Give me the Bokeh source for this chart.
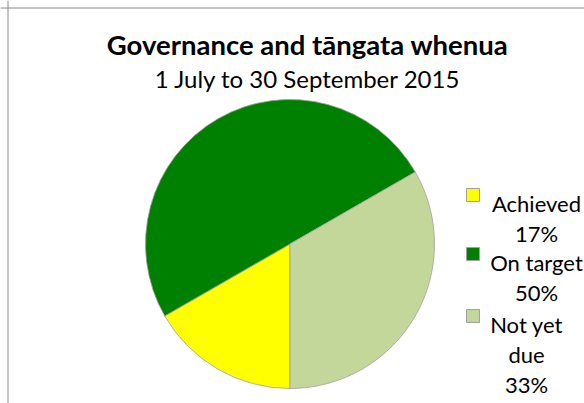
import math
import textwrap
from bokeh.plotting import figure
from bokeh.models import Range1d, Span
from bokeh.core.properties import value
from bokeh.embed import file_html
from bokeh.resources import INLINE

# ---- data ----
title = "Governance and tāngata whenua"
subtitle = "1 July to 30 September 2015"
categories = ["Achieved", "On target", "Not yet due"]
shares = [16.7, 50.0, 33.3]          # percent
colors = ["#FFFF00", "#008000", "#C4D79B"]

# ---- layout (page pixels) ----
W, H = 584, 403
FONT = "Lato"


def sy(y):
    """page pixel y -> data y"""
    return H - y


p = figure(width=W, height=H, x_range=Range1d(0, W), y_range=Range1d(0, H),
           output_backend="svg", toolbar_location=None, min_border=0,
           x_axis_location=None, y_axis_location=None)
p.grid.visible = False
p.outline_line_color = None
p.background_fill_color = "white"
p.border_fill_color = "white"

# chart-area border (left and top visible)
p.add_layout(Span(location=7.5, dimension="height", line_color="#8a8a8a", line_width=1))
p.add_layout(Span(location=sy(7.5), dimension="width", line_color="#8a8a8a", line_width=1))

# titles
p.text(x=[307], y=[sy(44)], text=[title], text_font=value(FONT), text_font_size="27.5px",
       text_font_style="bold", text_align="center", text_baseline="alphabetic", text_color="#000000")
p.text(x=[307.5], y=[sy(78)], text=[subtitle], text_font=value(FONT), text_font_size="24px",
       text_align="center", text_baseline="alphabetic", text_color="#000000")

# pie: first slice starts at 6 o'clock, running clockwise
total = sum(shares)
start_clock = 180.0
starts, ends = [], []
cum = 0.0
for s in shares:
    a0 = start_clock + 360.0 * cum / total
    a1 = a0 + 360.0 * s / total
    starts.append(math.radians(90.0 - a0))
    ends.append(math.radians(90.0 - a1))
    cum += s
p.wedge(x=289.5, y=sy(243.5), radius=144.5, start_angle=starts, end_angle=ends,
        direction="clock", fill_color=colors, line_color="#a0a0a0", line_width=0.8)

# legend
first_baselines = [203, 262, 324]
block_centers = [536, 536, 526]
line_step = 30
sq_x, sq_size = 472.5, 13
tx, ty, tt = [], [], []
sqx, sqy = [], []
for name, s, b, c in zip(categories, shares, first_baselines, block_centers):
    lines = textwrap.wrap(name, 9) + ["%d%%" % round(s)]
    for i, ln in enumerate(lines):
        tx.append(c)
        ty.append(sy(b + i * line_step))
        tt.append(ln)
    sqx.append(sq_x)
    sqy.append(sy(b - 8.5))
p.rect(x=sqx, y=sqy, width=sq_size, height=sq_size, fill_color=colors,
       line_color="#a0a0a0", line_width=1)
p.text(x=tx, y=ty, text=tt, text_font=value(FONT), text_font_size="22px",
       text_align="center", text_baseline="alphabetic", text_color="#000000")

open("out.html", "w").write(file_html(p, INLINE))
